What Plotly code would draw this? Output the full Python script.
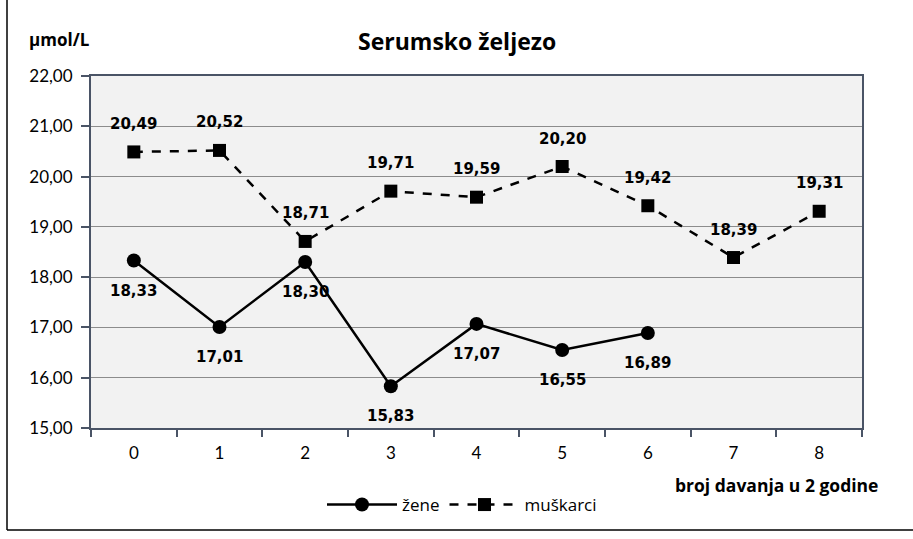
import plotly.graph_objects as go

categories = ["0", "1", "2", "3", "4", "5", "6", "7", "8"]
zene = [18.33, 17.01, 18.30, 15.83, 17.07, 16.55, 16.89]
muskarci = [20.49, 20.52, 18.71, 19.71, 19.59, 20.20, 19.42, 18.39, 19.31]
y_ticks = [15, 16, 17, 18, 19, 20, 21, 22]

label_font = dict(family="DejaVu Sans", size=15, color="black")

fig = go.Figure()
fig.add_trace(go.Scatter(
    x=categories[:len(zene)], y=zene, name="žene",
    mode="lines+markers",
    line=dict(color="black", width=2.5),
    marker=dict(symbol="circle", size=14, color="black"),
))
fig.add_trace(go.Scatter(
    x=categories, y=muskarci, name="muškarci",
    mode="lines+markers",
    line=dict(color="black", width=2.5, dash="dash"),
    marker=dict(symbol="square", size=13, color="black"),
))

annotations = []
for c, v in zip(categories, zene):
    annotations.append(dict(x=c, y=v, xref="x", yref="y", text="<b>%s</b>" % f"{v:.2f}".replace(".", ","),
                            showarrow=False, yshift=-30, font=label_font,
                            xanchor="center", yanchor="middle"))
for c, v in zip(categories, muskarci):
    annotations.append(dict(x=c, y=v, xref="x", yref="y", text="<b>%s</b>" % f"{v:.2f}".replace(".", ","),
                            showarrow=False, yshift=28, font=label_font,
                            xanchor="center", yanchor="middle"))

W, H = 913, 539
L, R, T, B = 91, 51, 76, 111
pw, ph = W - L - R, H - T - B

def px(x):
    return (x - L) / pw

def py(y):
    return (H - B - y) / ph

annotations += [
    dict(text="<b>Serumsko željezo</b>", x=px(457), y=py(41), xref="paper", yref="paper",
         showarrow=False, font=dict(family="Open Sans", size=23, color="black"),
         xanchor="center", yanchor="middle"),
    dict(text="<b>µmol/L</b>", x=px(27), y=py(40), xref="paper", yref="paper",
         showarrow=False, font=dict(family="Open Sans", size=17, color="black"),
         xanchor="left", yanchor="middle"),
    dict(text="<b>broj davanja u 2 godine</b>", x=px(880), y=py(485), xref="paper", yref="paper",
         showarrow=False, font=dict(family="Open Sans", size=17.5, color="black"),
         xanchor="right", yanchor="middle"),
]

fig.update_layout(
    width=W, height=H,
    margin=dict(l=L, r=R, t=T, b=B, autoexpand=False),
    paper_bgcolor="white",
    plot_bgcolor="#f2f2f2",
    separators=",.",
    showlegend=True,
    legend=dict(orientation="h", x=px(462), y=py(505), xanchor="center", yanchor="middle",
                font=dict(family="Open Sans", size=17, color="black"), itemwidth=70,
                bgcolor="rgba(0,0,0,0)"),
    font=dict(family="Lato", color="black"),
    xaxis=dict(
        type="category", categoryorder="array", categoryarray=categories,
        range=[-0.5, 8.5],
        showgrid=False, tickson="boundaries", ticks="outside", ticklen=7,
        tickcolor="#4a5466", tickwidth=1.5,
        showline=True, linecolor="#4a5466", linewidth=2, mirror=True,
        tickfont=dict(family="Lato", size=17, color="black"),
        ticklabelstandoff=9,
        zeroline=False,
    ),
    yaxis=dict(
        range=[15, 22], tickvals=y_ticks, tickformat=".2f",
        showgrid=True, gridcolor="#8c8c8c", gridwidth=1,
        ticks="outside", ticklen=8, tickcolor="#4a5466", tickwidth=1.5,
        showline=True, linecolor="#4a5466", linewidth=2, mirror=True,
        tickfont=dict(family="Lato", size=17, color="black"),
        ticklabelstandoff=5,
        zeroline=False,
    ),
    annotations=annotations,
    shapes=[
        dict(type="line", xref="paper", yref="paper", x0=px(7), x1=px(7), y0=py(530), y1=py(-5),
             line=dict(color="black", width=1.5)),
        dict(type="line", xref="paper", yref="paper", x0=px(7), x1=px(920), y0=py(530), y1=py(530),
             line=dict(color="black", width=1.5)),
    ],
)

fig.write_html("out.html", config={"displayModeBar": False},
               post_script="document.body.style.margin='0';document.body.style.overflow='hidden';")
